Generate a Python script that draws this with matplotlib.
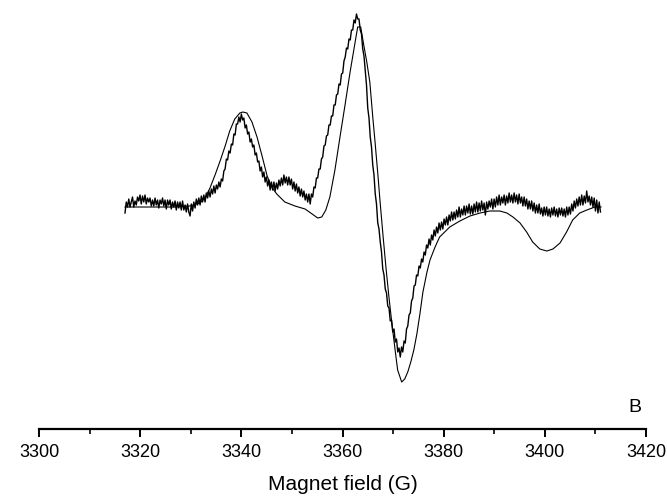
import numpy as np
import matplotlib.pyplot as plt
from matplotlib.ticker import MultipleLocator

plt.rcParams['font.family'] = ['Liberation Sans', 'DejaVu Sans']

# experimental EPR trace (arb. units), evenly sampled from 3317 to 3411 G
signal = [
    -6, 5, 0, 8, 0, 5, 10, 0, 6, 2, 10, 6, 12, 3, 11, 5, 12, 3, 9, 5,
    9, 1, 7, 1, 9, 2, 7, -1, 7, 3, 9, 1, 7, -2, 7, 2, 7, -2, 5, 0,
    6, -3, 5, -1, 5, -3, 6, -3, 2, -5, 3, -5, -9, 3, -4, 5, -1, 8, 2, 9,
    2, 11, 5, 12, 5, 14, 9, 16, 10, 18, 13, 21, 14, 22, 18, 25, 20, 28, 26, 36,
    38, 48, 47, 56, 54, 63, 62, 73, 72, 83, 83, 90, 85, 93, 87, 89, 79, 82, 73, 75,
    65, 68, 60, 62, 52, 54, 45, 46, 36, 40, 30, 35, 25, 30, 21, 27, 17, 25, 17, 25,
    16, 24, 18, 27, 21, 29, 22, 32, 24, 30, 22, 30, 22, 28, 18, 25, 16, 23, 14, 20,
    11, 18, 10, 16, 7, 13, 5, 13, 3, 13, 10, 20, 19, 29, 29, 38, 38, 48, 50, 61,
    62, 71, 72, 82, 82, 91, 91, 102, 102, 112, 113, 123, 122, 133, 134, 146, 150, 159, 158, 168,
    167, 177, 177, 187, 184, 193, 188, 188, 177, 173, 158, 151, 136, 122, 99, 89, 70, 60, 42, 32,
    13, 3, -16, -22, -35, -45, -62, -68, -82, -86, -99, -101, -114, -113, -125, -122, -135, -132, -145, -141,
    -150, -140, -145, -134, -136, -122, -119, -108, -106, -94, -91, -79, -78, -68, -69, -59, -61, -52, -55, -45,
    -48, -38, -41, -32, -38, -28, -33, -23, -29, -20, -26, -16, -23, -15, -22, -12, -18, -10, -18, -8,
    -14, -5, -13, -5, -12, -3, -10, 0, -10, -2, -8, 1, -8, 1, -6, 3, -7, 1, -7, 3,
    -5, 5, -5, 4, -4, 6, -3, 4, -8, 5, -2, 6, 0, 8, -2, 8, 0, 10, 2, 12,
    2, 10, 4, 12, 2, 11, 4, 14, 5, 12, 4, 14, 5, 12, 3, 13, 4, 10, 1, 10,
    1, 8, -2, 6, -2, 6, -4, 4, -6, 2, -6, 3, -7, -1, -9, 0, -8, 0, -9, -2,
    -10, -1, -8, 0, -9, -2, -10, -1, -8, -1, -9, -2, -10, 0, -8, 0, -7, 3, -4, 6,
    -1, 8, 1, 10, 2, 12, 2, 11, 4, 16, 5, 11, 2, 10, 0, 9, -4, 7, -6, 5,
    -5,
]
field_start, field_end = 3317.0, 3411.0

# simulated spectrum
sim_field = [3317.0, 3321.9, 3326.9, 3329.8, 3331.8, 3332.8, 3333.8, 3334.8, 3335.8, 3336.8,
             3337.7, 3338.7, 3339.7, 3340.3, 3341.1, 3342.1, 3343.1, 3344.1, 3345.1, 3346.0,
             3347.0, 3348.6, 3350.6, 3352.6, 3354.0, 3355.1, 3355.9, 3356.7, 3357.5, 3358.5,
             3359.5, 3360.5, 3361.5, 3362.5, 3363.0, 3363.6, 3364.2, 3364.8, 3365.4, 3366.0,
             3366.4, 3367.0, 3367.4, 3368.0, 3368.6, 3369.2, 3369.8, 3370.4, 3370.9, 3371.7,
             3372.3, 3372.9, 3373.5, 3374.1, 3374.7, 3375.3, 3375.9, 3376.7, 3377.3, 3378.3,
             3379.2, 3381.2, 3383.2, 3385.2, 3387.2, 3389.1, 3391.1, 3392.5, 3393.7, 3395.1,
             3396.4, 3397.6, 3399.0, 3400.4, 3401.6, 3403.0, 3404.3, 3405.5, 3406.9, 3408.3,
             3409.9, 3411.1]
sim_signal = [0, 0, 0, 1, 4, 9, 19, 32, 46, 61,
              76, 88, 94, 95, 94, 85, 70, 51, 31, 20,
              13, 5, 1, -2, -7, -11, -10, -3, 10, 37,
              70, 102, 135, 165, 180, 180, 162, 145, 125, 89,
              67, 32, 7, -28, -61, -91, -118, -143, -163, -175,
              -172, -165, -155, -143, -127, -107, -85, -65, -53, -40,
              -30, -20, -14, -9, -6, -4, -4, -6, -10, -16,
              -25, -35, -42, -44, -42, -36, -25, -13, -6, -3,
              0, 0]

field = np.linspace(field_start, field_end, len(signal))

fig = plt.figure(figsize=(6.67, 4.97), dpi=100)
ax = fig.add_axes([0.0585, 0.1368, 0.910, 0.8632])
ax.plot(field, signal, color='black', lw=1.0)
ax.plot(sim_field, sim_signal, color='black', lw=0.8)

ax.set_xlim(3300, 3420)
ax.set_ylim(-222, 207)
for side in ['left', 'right', 'top']:
    ax.spines[side].set_visible(False)
ax.spines['bottom'].set_linewidth(1.6)
ax.set_yticks([])
ax.xaxis.set_major_locator(MultipleLocator(20))
ax.xaxis.set_minor_locator(MultipleLocator(10))
ax.tick_params(axis='x', which='major', length=6, width=1.4, labelsize=13, pad=5)
ax.tick_params(axis='x', which='minor', length=3.5, width=1.2)
ax.set_xlabel('Magnet field (G)', fontsize=15, labelpad=10)
ax.text(3417.8, -200, 'B', fontsize=14, ha='center', va='center')

fig.savefig('out.png')
